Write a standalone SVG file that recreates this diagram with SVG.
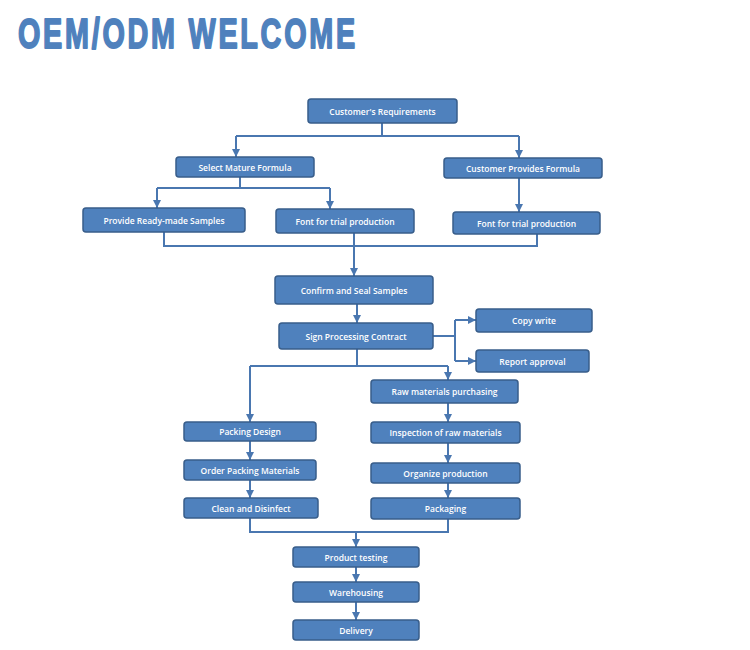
<svg xmlns="http://www.w3.org/2000/svg" width="750" height="650" viewBox="0 0 750 650">
<defs>
<style>
.box{fill:#4F81BD;stroke:#385D8A;stroke-width:1.5}
.lbl{font-family:"Open Sans","Liberation Sans",sans-serif;font-weight:600;font-size:8.5px;fill:#FFFFFF;text-anchor:middle;dominant-baseline:central}
.ln{fill:none;stroke:#4A77B0;stroke-width:2}
.ar{fill:none;stroke:#4A77B0;stroke-width:2;marker-end:url(#ah)}
.title{font-family:"Liberation Sans",Arial,sans-serif;font-weight:bold;font-size:42px;letter-spacing:4px;fill:#4F81BD;stroke:#4F81BD;stroke-width:1.8;stroke-linejoin:round}
</style>
<marker id="ah" markerUnits="userSpaceOnUse" markerWidth="10" markerHeight="10" viewBox="0 0 10 10" refX="9" refY="5" orient="auto">
<path d="M1,1 L9,5 L1,9 Z" fill="#4A77B0"/>
</marker>
</defs>
<rect width="750" height="650" fill="#FFFFFF"/>
<text class="title" transform="translate(18,48) scale(0.685,1)" x="0" y="0">OEM/ODM WELCOME</text>

<g id="connectors">
<path class="ln" d="M382,123 V136 M236,136 H519"/>
<path class="ar" d="M236,136 V157"/>
<path class="ar" d="M519,136 V158"/>
<path class="ln" d="M240,177 V188 M157,188 H330"/>
<path class="ar" d="M157,188 V208"/>
<path class="ar" d="M330,188 V209"/>
<path class="ar" d="M519,178 V212"/>
<path class="ln" d="M164,232 V246 H537 V234 M354,233 V246"/>
<path class="ar" d="M354,246 V276"/>
<path class="ar" d="M357,304 V323"/>
<path class="ln" d="M433,336 H455 M455,320 V361"/>
<path class="ar" d="M455,320 H476"/>
<path class="ar" d="M455,361 H476"/>
<path class="ln" d="M357,349 V366 M250,366 H448"/>
<path class="ar" d="M250,366 V422"/>
<path class="ar" d="M448,366 V380"/>
<path class="ar" d="M250,441 V460"/>
<path class="ar" d="M250,480 V498"/>
<path class="ar" d="M448,403 V422"/>
<path class="ar" d="M448,443 V463"/>
<path class="ar" d="M448,483 V498"/>
<path class="ln" d="M250,518 V532 H448 V519"/>
<path class="ar" d="M356,532 V547"/>
<path class="ar" d="M356,567 V582"/>
<path class="ar" d="M356,602 V620"/>
</g>

<g id="n-req"><rect class="box" x="308" y="99" width="149" height="24" rx="3"/><text class="lbl" x="382.5" y="111">Customer's Requirements</text></g>
<g id="n-smf"><rect class="box" x="176" y="157" width="138" height="20" rx="3"/><text class="lbl" x="245" y="167">Select Mature Formula</text></g>
<g id="n-cpf"><rect class="box" x="444" y="158" width="158" height="20" rx="3"/><text class="lbl" x="523" y="168">Customer Provides Formula</text></g>
<g id="n-prs"><rect class="box" x="83" y="208" width="162" height="24" rx="3"/><text class="lbl" x="164" y="220">Provide Ready-made Samples</text></g>
<g id="n-ftp1"><rect class="box" x="276" y="209" width="138" height="24" rx="3"/><text class="lbl" x="345" y="221">Font for trial production</text></g>
<g id="n-ftp2"><rect class="box" x="453" y="212" width="147" height="22" rx="3"/><text class="lbl" x="526.5" y="223">Font for trial production</text></g>
<g id="n-css"><rect class="box" x="275" y="276" width="158" height="28" rx="3"/><text class="lbl" x="354" y="290">Confirm and Seal Samples</text></g>
<g id="n-spc"><rect class="box" x="279" y="323" width="154" height="26" rx="3"/><text class="lbl" x="356" y="336">Sign Processing Contract</text></g>
<g id="n-cw"><rect class="box" x="476" y="309" width="116" height="23" rx="3"/><text class="lbl" x="534" y="320.5">Copy write</text></g>
<g id="n-ra"><rect class="box" x="476" y="350" width="113" height="22" rx="3"/><text class="lbl" x="532.5" y="361">Report approval</text></g>
<g id="n-pd"><rect class="box" x="184" y="422" width="132" height="19" rx="3"/><text class="lbl" x="250" y="431.5">Packing Design</text></g>
<g id="n-opm"><rect class="box" x="184" y="460" width="132" height="20" rx="3"/><text class="lbl" x="250" y="470">Order Packing Materials</text></g>
<g id="n-cad"><rect class="box" x="184" y="498" width="134" height="20" rx="3"/><text class="lbl" x="251" y="508">Clean and Disinfect</text></g>
<g id="n-rmp"><rect class="box" x="371" y="380" width="147" height="23" rx="3"/><text class="lbl" x="444.5" y="391.5">Raw materials purchasing</text></g>
<g id="n-irm"><rect class="box" x="371" y="422" width="149" height="21" rx="3"/><text class="lbl" x="445.5" y="432.5">Inspection of raw materials</text></g>
<g id="n-op"><rect class="box" x="371" y="463" width="149" height="20" rx="3"/><text class="lbl" x="445.5" y="473">Organize production</text></g>
<g id="n-pk"><rect class="box" x="371" y="498" width="149" height="21" rx="3"/><text class="lbl" x="445.5" y="508.5">Packaging</text></g>
<g id="n-pt"><rect class="box" x="293" y="547" width="126" height="20" rx="3"/><text class="lbl" x="356" y="557">Product testing</text></g>
<g id="n-wh"><rect class="box" x="293" y="582" width="126" height="20" rx="3"/><text class="lbl" x="356" y="592">Warehousing</text></g>
<g id="n-dl"><rect class="box" x="293" y="620" width="126" height="20" rx="3"/><text class="lbl" x="356" y="630">Delivery</text></g>
</svg>
